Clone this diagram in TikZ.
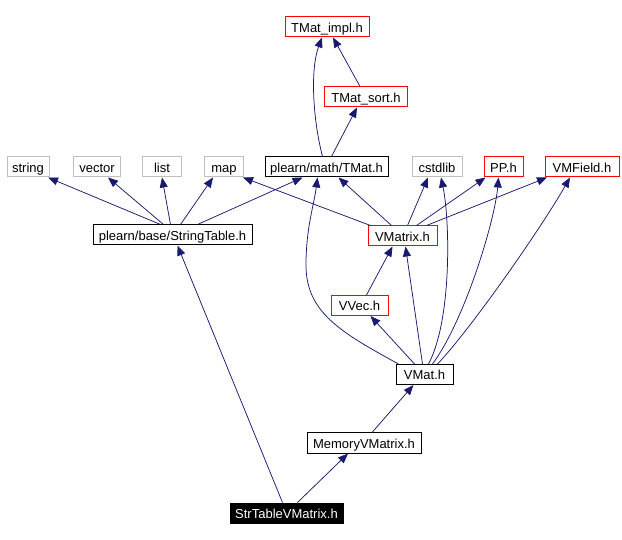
\documentclass[tikz,border=0pt]{standalone}
\usepackage{fontspec}
\setmainfont{Liberation Sans}
\usepackage{tikz}
\usepackage{xcolor}
\definecolor{edgeblue}{RGB}{25, 25, 112}
\definecolor{boxred}{RGB}{255, 0, 0}
\definecolor{boxgray}{RGB}{191, 191, 191}
\usetikzlibrary{arrows.meta,positioning,calc}

\begin{document}
\begin{tikzpicture}[x=1pt, y=-1pt,
    filebox/.style={draw=black, line width=1pt, rectangle, minimum height=20pt,
        inner sep=0pt, text height=12pt, text depth=1pt, font=\fontsize{13}{15}\selectfont},
    redbox/.style={filebox, draw=boxred},
    graybox/.style={filebox, draw=boxgray},
    rootbox/.style={filebox, fill=black, text=white},
    dep/.style={edgeblue, line width=0.75pt, -{Triangle[length=10pt,width=8pt]}}]
    \useasboundingbox (0,0) rectangle (622,540);

    % Top of the include tree
    \node[redbox, minimum width=84pt] (impl) at (327,27) {TMat\_impl.h};
    \node[redbox, minimum width=83pt] (sort) at (366,97) {TMat\_sort.h};

    % Row of included headers
    \node[graybox, minimum width=42pt] (string) at (28,167) {string};
    \node[graybox, minimum width=47pt] (vector) at (97,167) {vector};
    \node[graybox, minimum width=39pt] (list) at (162,167) {list};
    \node[graybox, minimum width=39pt] (map) at (224,167) {map};
    \node[filebox, minimum width=123pt] (tmat) at (326.5,167) {plearn/math/TMat.h};
    \node[graybox, minimum width=50pt] (cstdlib) at (437,167) {cstdlib};
    \node[redbox, minimum width=39pt] (pp) at (503.5,167) {PP.h};
    \node[redbox, minimum width=74pt] (vmfield) at (582,167) {VMField.h};

    % Middle
    \node[filebox, minimum width=159pt] (strtab) at (172.5,235) {plearn/base/StringTable.h};
    \node[redbox, minimum width=69pt] (vmatrix) at (402.5,236) {VMatrix.h};
    \node[redbox, minimum width=57pt] (vvec) at (359.5,305.5) {VVec.h};
    \node[filebox, minimum width=57pt] (vmat) at (424.5,374.5) {VMat.h};
    \node[filebox, minimum width=114pt] (memvm) at (364,443) {MemoryVMatrix.h};

    % The file itself
    \node[rootbox, minimum width=113pt] (strtvm) at (286.5,513) {StrTableVMatrix.h};

    % StringTable.h includes
    \foreach \dst/\sa/\sb in {string/-12/20, vector/-9/11, list/-2/0, map/8/-11, tmat/25/-24} {
        \draw[dep] ([xshift=\sa pt]strtab.north) -- ([xshift=\sb pt]\dst.south);
    }

    % TMat.h and friends
    \draw[dep] ([xshift=-4pt]tmat.north) .. controls (313,120) and (310,70) .. ([xshift=-5pt]impl.south);
    \draw[dep] ([xshift=-6pt]sort.north) -- ([xshift=6pt]impl.south);
    \draw[dep] ([xshift=5pt]tmat.north) -- ([xshift=-9pt]sort.south);

    % VMatrix.h includes
    \draw[dep] ([xshift=3pt]vmatrix.north west) -- ([xshift=-1pt]map.south east);
    \foreach \dst/\sa/\sb in {tmat/-11/12, cstdlib/5/-9, pp/14/-18, vmfield/24/-35} {
        \draw[dep] ([xshift=\sa pt]vmatrix.north) -- ([xshift=\sb pt]\dst.south);
    }
    \draw[dep] ([xshift=7pt]vvec.north) -- ([xshift=-10pt]vmatrix.south);

    % VMat.h includes
    \draw[dep] ([xshift=3pt]vmat.north west) .. controls (340,332) and (306,312) .. (306,265)
        .. controls (306,228) and (314,205) .. ([xshift=-9pt]tmat.south);
    \draw[dep] ([xshift=4pt]vmat.north) .. controls (452,320) and (450,220) .. ([xshift=4pt]cstdlib.south);
    \draw[dep] ([xshift=8pt]vmat.north) .. controls (465,320) and (495,220) .. ([xshift=-5pt]pp.south);
    \draw[dep] ([xshift=13pt]vmat.north) .. controls (470,330) and (540,230) .. ([xshift=-12pt]vmfield.south);
    \draw[dep] ([xshift=-2pt]vmat.north) -- ([xshift=3pt]vmatrix.south);
    \draw[dep] ([xshift=-10pt]vmat.north) -- ([xshift=11pt]vvec.south);

    % Bottom of the graph
    \draw[dep] ([xshift=8pt]memvm.north) -- ([xshift=-11pt]vmat.south);
    \draw[dep] ([xshift=11pt]strtvm.north) -- ([xshift=-16pt]memvm.south);
    \draw[dep] ([xshift=-4pt]strtvm.north) -- ([xshift=5pt]strtab.south);
\end{tikzpicture}
\end{document}
